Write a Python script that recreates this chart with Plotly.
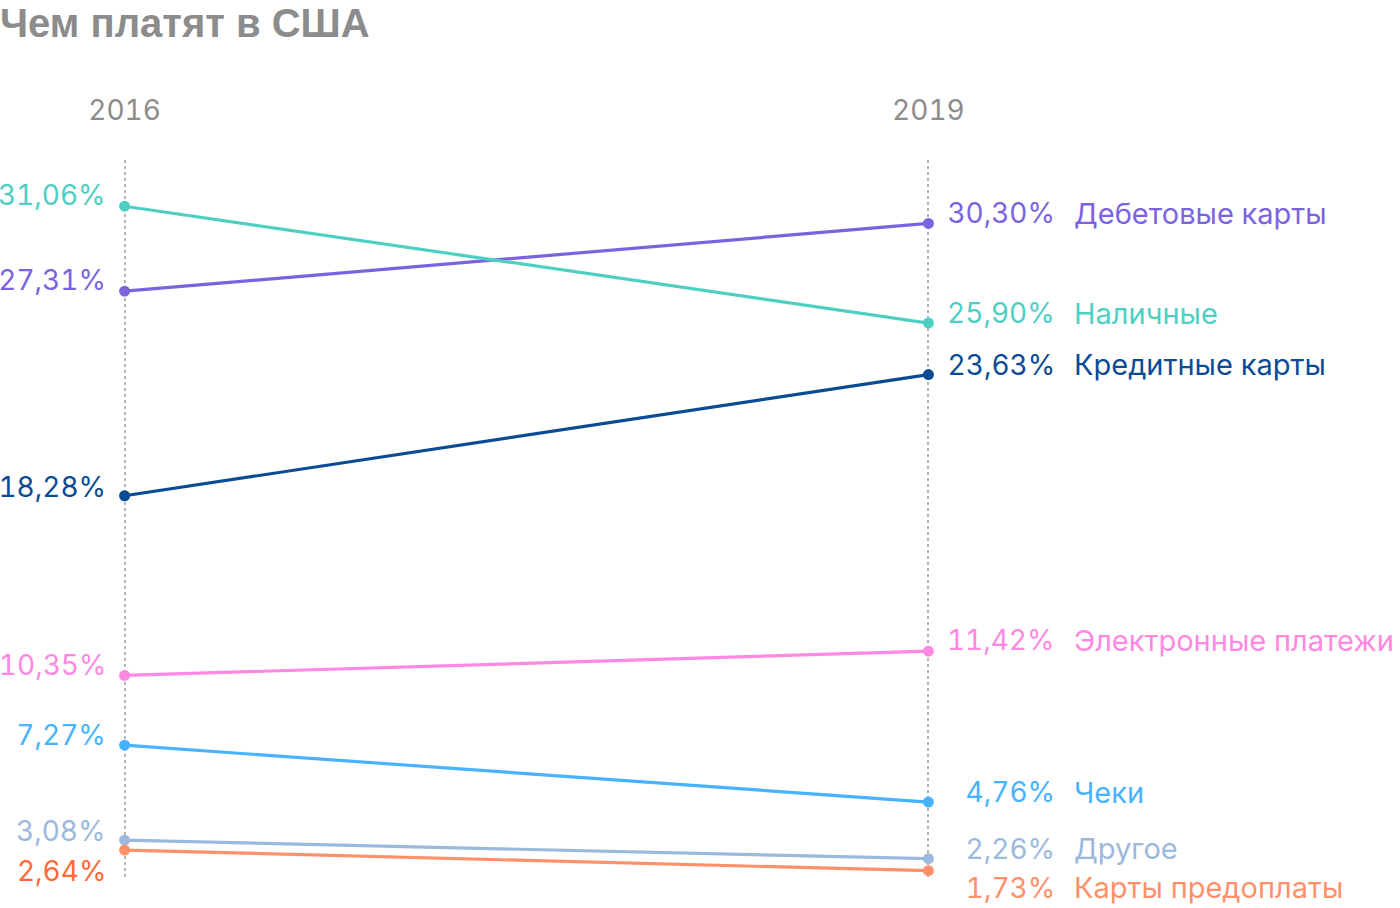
import plotly.graph_objects as go

years = [2016, 2019]
series_names = ["Дебетовые карты", "Наличные", "Кредитные карты", "Электронные платежи",
                "Чеки", "Другое", "Карты предоплаты"]
values_2016 = [27.31, 31.06, 18.28, 10.35, 7.27, 3.08, 2.64]
values_2019 = [30.30, 25.90, 23.63, 11.42, 4.76, 2.26, 1.73]
line_colors = ["#7b63e0", "#4fcfc3", "#0b4b94", "#ff88e3", "#47b3ff", "#9bb9dd", "#ff9069"]
left_label_colors = ["#7b63e0", "#4fcfc3", "#0b4b94", "#ff88e3", "#47b3ff", "#9bb9dd", "#ff6a3a"]
# vertical nudges for labels (px) to keep them apart
left_shift = [11, 11, 9, 10, 10, 9, -21]
right_shift = [10, 10, 10, 11, 10, 10, -17]

FONT = "Inter"

def fmt(v):
    return f"{v:.2f}".replace(".", ",") + "%"

fig = go.Figure()
for i, name in enumerate(series_names):
    fig.add_trace(go.Scatter(
        x=years, y=[values_2016[i], values_2019[i]],
        mode="lines+markers", name=name,
        line=dict(color=line_colors[i], width=3.2),
        marker=dict(size=11, color=line_colors[i]),
        cliponaxis=False, showlegend=False, hoverinfo="skip",
    ))
    fig.add_annotation(x=years[0], y=values_2016[i], text=fmt(values_2016[i]),
                       xanchor="right", align="right", yanchor="middle", xshift=-17,
                       yshift=left_shift[i], showarrow=False,
                       font=dict(family=FONT, size=28, color=left_label_colors[i]))
    fig.add_annotation(x=years[1], y=values_2019[i], text=fmt(values_2019[i]),
                       xanchor="right", align="right", yanchor="middle", xshift=129,
                       yshift=right_shift[i], showarrow=False,
                       font=dict(family=FONT, size=28, color=line_colors[i]))
    fig.add_annotation(x=years[1], y=values_2019[i], text=name,
                       xanchor="left", align="left", yanchor="middle", xshift=144,
                       yshift=right_shift[i], showarrow=False,
                       font=dict(family=FONT, size=29, color=line_colors[i]))

fig.update_layout(
    width=1400, height=908,
    margin=dict(l=71, r=418, t=160, b=28),
    paper_bgcolor="white", plot_bgcolor="white",
    title=dict(text="<b>Чем платят в США</b>", x=0, xref="container", xanchor="left",
               y=0.975, yref="container", yanchor="middle", pad=dict(l=0, t=0, b=0, r=0),
               font=dict(family="Liberation Sans", size=40, color="#8c8c8c")),
    xaxis=dict(range=[2015.8, 2019.2], tickvals=years, ticktext=[str(y) for y in years],
               side="top", showgrid=True, griddash="dot", gridcolor="#b5b5b5", gridwidth=1.5,
               zeroline=False, showline=False, ticks="", ticklabelstandoff=33,
               tickfont=dict(family=FONT, size=28, color="#8c8c8c")),
    yaxis=dict(range=[1.32, 33.1], visible=False),
)
# drop the default body margin and use tabular digits like the original
fig.write_html("out.html", config={"displayModeBar": False}, post_script=(
    "document.body.style.margin='0';"
    "document.querySelectorAll('text').forEach(function(t){t.style.fontFeatureSettings='\"tnum\"';});"
))
